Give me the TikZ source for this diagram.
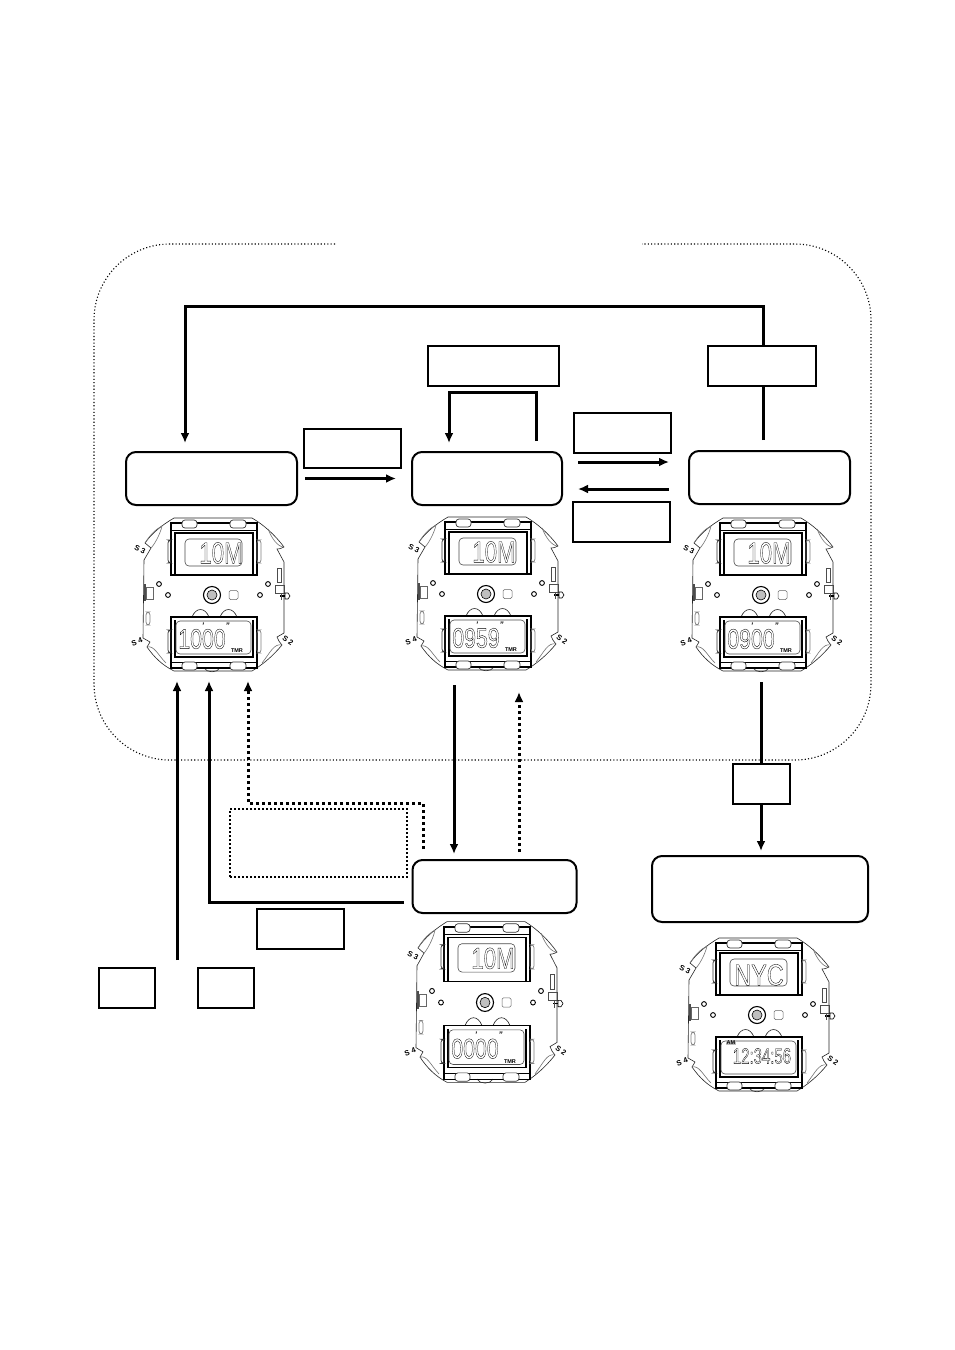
\documentclass[tikz,border=0pt]{standalone}
\usepackage{graphicx}
\usepackage{fontspec}
\setmainfont{Liberation Sans}
\usetikzlibrary{arrows.meta,calc}
\newcommand{\outlinetext}[1]{\special{pdf:code 1 Tr 0.35 w}#1\special{pdf:code 0 Tr}}
\newcommand{\lcdtxt}[3]{\scalebox{#2}[1]{\fontsize{#1}{#1}\selectfont\outlinetext{#3}}}
\tikzset{
  sqbox/.style={draw=black,fill=white,line width=2pt,inner sep=0pt,outer sep=0pt},
  rbox/.style={sqbox,rounded corners=10pt},
  dotbox/.style={draw=black,fill=white,line width=2pt,dash pattern=on 2pt off 2pt,inner sep=0pt,outer sep=0pt},
  tline/.style={line width=3pt,draw=black},
  arr/.style={tline,-{Latex[length=10pt,width=9pt]}},
  darr/.style={line width=3pt,draw=black,dash pattern=on 3pt off 3pt,-{Latex[length=10pt,width=9pt]}},
  wthin/.style={line width=.6pt,draw=black!85},
  wgray/.style={line width=.6pt,draw=black!55},
  wframe/.style={line width=1.2pt,draw=black},
  wpill/.style={line width=.7pt,draw=black!80,rounded corners=3pt},
  wlab/.style={inner sep=0pt,font=\bfseries\fontsize{7.5}{7.5}\selectfont},
  wsmall/.style={inner sep=0pt,font=\bfseries\fontsize{5.5}{5.5}\selectfont},
  wmark/.style={inner sep=0pt,font=\bfseries\itshape\fontsize{8}{8}\selectfont}
}
% #1 name prefix, #2 x, #3 y, #4 top text position, #5 vertical scale
\newcommand{\watchbody}[5]{%
 \begin{scope}[shift={(#2,#3)},yscale=#5]
  % outline
  \draw[wthin] (-38,-77) -- (40,-77) .. controls (52,-70) and (63,-60) .. (72,-48) .. controls (68,-46) and (66,-46) .. (65,-46) -- (72,-33) -- (72,38) -- (65,42) .. controls (66,45) and (68,48) .. (70,50)
     .. controls (60,62) and (50,70) .. (40,76) -- (-38,76) .. controls (-50,70) and (-58,62) .. (-65,52) -- (-62,47) -- (-69,43) -- (-68,-35) -- (-61,-47) -- (-67,-52) .. controls (-60,-62) and (-50,-70) .. (-38,-77) -- cycle;
  \draw[wgray] (-67,-52) .. controls (-62,-60) and (-56,-66) .. (-50,-69) .. controls (-52,-60) and (-58,-50) .. (-61,-47);
  \draw[wgray] (72,-48) .. controls (66,-48) and (60,-56) .. (56,-66);
  \draw[wgray] (-65,52) .. controls (-58,50) and (-54,60) .. (-46,68);
  \draw[wgray] (70,50) .. controls (62,48) and (58,58) .. (50,68);
  % upper frames
  \draw[wframe] (-41,-72) rectangle (45,-20);
  \draw[line width=.7pt] (-41,-65) -- (45,-65);
  \draw[wframe] (-37,-20) -- (-37,-62) -- (41,-62) -- (41,-20);
  \draw[line width=.6pt,draw=black!70,rounded corners=4pt] (-27,-56) rectangle (30,-29);
  \draw[wpill,fill=white] (-30,-75) rectangle (-15,-67);
  \draw[wpill,fill=white] (18,-75) rectangle (34,-67);
  \draw[wpill] (-44,-55) -- (-41,-55) -- (-41,-32) -- (-44,-32) -- cycle;
  \draw[wpill,draw=black!50] (45,-55) rectangle (49,-32);
  % lower frames
  \draw[wthin] (-20,22) .. controls (-16,12) and (-7,12) .. (-3,22);
  \draw[wthin] (8,22) .. controls (12,12) and (21,12) .. (25,22);
  \draw[wthin] (-8,73) .. controls (-5,78) and (5,78) .. (8,73);
  \draw[wframe] (-41,22) rectangle (45,73);
  \draw[wframe] (-37,25) -- (-37,62) -- (41,62) -- (41,25);
  \draw[line width=.6pt,draw=black!70,rounded corners=4pt] (-36,26) rectangle (39,59);
  \draw[line width=.7pt] (-41,67) -- (45,67);
  \draw[wpill,fill=white] (-30,67) rectangle (-15,75);
  \draw[wpill,fill=white] (18,67) rectangle (34,75);
  \draw[wpill] (-44,35) -- (-41,35) -- (-41,58) -- (-44,58) -- cycle;
  \draw[wpill,draw=black!50] (45,35) rectangle (49,58);
  % centre
  \draw[line width=.9pt] (-53,-11) circle (2.4);
  \draw[line width=.9pt] (-44,0) circle (2.4);
  \draw[line width=.9pt] (56,-11) circle (2.4);
  \draw[line width=.9pt] (48,0) circle (2.4);
  \draw[line width=1.1pt] (0,0) circle (8.5);
  \draw[line width=.6pt,fill=black!25] (0,0) circle (5);
  \draw[line width=.5pt,draw=black!60,rounded corners=1.5pt] (17,-4.5) rectangle (26,4.5);
  % side details
  \draw[line width=.6pt,draw=black!60] (-66,-8) rectangle (-59,4);
  \draw[line width=1.1pt,draw=black!70] (-67,-11) -- (-67,6);
  \draw[wpill,draw=black!50] (-66,17) rectangle (-62,30);
  \draw[line width=.6pt,draw=black!70] (65,-27) rectangle (69,-13);
  \draw[line width=.6pt,draw=black!70] (63,-10) rectangle (72,-2);
  \draw[line width=1.6pt] (68,1) -- (74,1);
  \draw[line width=.6pt,fill=white] (73,-2) -- (76,-2) -- (78,1) -- (76,4) -- (73,4) -- cycle;
  \draw[line width=.8pt,draw=black!70] (69,-2) -- (69,5);
  % button labels
  \node[wlab,rotate=-25] (#1s3) at (-72,-45) {S 3};
  \node[wlab,rotate=20] (#1s4) at (-75,47) {S 4};
  \node[wlab,rotate=-35] (#1s2) at (76,46) {S 2};
  \node[inner sep=0pt] (#1up) at (#4) {\lcdtxt{30}{.74}{10M}};
 \end{scope}}
\newcommand{\timerdisp}[5]{%
 \begin{scope}[shift={(#2,#3)},yscale=#5]
  \node[inner sep=0pt] (#1dn) at (-10,44) {\lcdtxt{28}{.76}{#4}};
  \node[wmark] (#1m) at (-9,31) {'};
  \node[wmark] (#1s) at (15.5,31) {''};
  \node[wsmall] (#1t) at (25,56) {TMR};
 \end{scope}}
\begin{document}
\begin{tikzpicture}[x=1pt,y=-1pt]
\useasboundingbox (0,0) rectangle (954,1350);
\fill[white] (0,0) rectangle (954,1350);
% mode frame
\coordinate (gapL) at (335,244);
\coordinate (gapR) at (642,244);
\draw[line width=1.1pt,dash pattern=on 1.1pt off 2.2pt,rounded corners=76pt] (gapL) -- (94,244) -- (94,760) -- (871,760) -- (871,244) -- (gapR);
% nodes
\node[rbox,minimum width=171pt,minimum height=53pt] (A) at (211.5,478.5) {};
\node[rbox,minimum width=150pt,minimum height=53pt] (B) at (487,478.5) {};
\node[rbox,minimum width=161pt,minimum height=53pt] (C) at (769.5,477.5) {};
\node[rbox,minimum width=164pt,minimum height=53pt] (D) at (494.5,886.5) {};
\node[rbox,minimum width=216pt,minimum height=66pt] (E) at (760,889) {};
\node[sqbox,minimum width=97pt,minimum height=39pt] (l1) at (352.5,448.5) {};
\node[sqbox,minimum width=131pt,minimum height=40pt] (l2) at (493,366) {};
\node[sqbox,minimum width=108pt,minimum height=40pt] (l3) at (762,366) {};
\node[sqbox,minimum width=97pt,minimum height=40pt] (l4) at (622,433) {};
\node[sqbox,minimum width=97pt,minimum height=40pt] (l5) at (621.5,522) {};
\node[sqbox,minimum width=57pt,minimum height=40pt] (l6) at (761.5,784) {};
\node[dotbox,minimum width=177pt,minimum height=68pt] (l7) at (318.5,843) {};
\node[sqbox,minimum width=87pt,minimum height=40pt] (l8) at (300.5,929) {};
\node[sqbox,minimum width=56pt,minimum height=40pt] (l9) at (127,988) {};
\node[sqbox,minimum width=56pt,minimum height=40pt] (l10) at (226,988) {};
% connectors
\coordinate (t1) at (763,306);
\coordinate (t2) at (185,306);
\draw[tline] (C.north -| t1) ++(0,-11) -- (l3.south -| t1);
\draw[arr,shorten >=9pt] (l3.north -| t1) -- (t1) -- (t2) -- (A.north -| t2);
\draw[arr,shorten <=8pt,shorten >=16pt] (A.east) -- (B.west);
\coordinate (b1) at (536.5,392);
\coordinate (b2) at (449,392);
\draw[arr,shorten <=11pt,shorten >=9pt] (B.north -| b1) -- (b1) -- (b2) -- (B.north -| b2);
\coordinate (h1) at (0,462);
\coordinate (h2) at (0,489);
\draw[arr,shorten <=16pt,shorten >=20pt] (B.east |- h1) -- (C.west |- h1);
\draw[arr,shorten <=20pt,shorten >=16pt] (C.west |- h2) -- (B.east |- h2);
\coordinate (v1) at (454,685);
\draw[arr,shorten >=6pt] (v1) -- (D.north -| v1);
\coordinate (v2) at (519,692);
\draw[darr,shorten <=8pt] (D.north -| v2) -- (v2);
\coordinate (v3) at (761,682);
\draw[tline] (v3) -- (l6.north -| v3);
\draw[arr,shorten >=5pt] (l6.south -| v3) -- (E.north -| v3);
\coordinate (u1) at (177,681);
\coordinate (u1b) at (177,960);
\draw[arr] (u1b) -- (u1);
\coordinate (u2) at (209,681);
\coordinate (u2b) at (209,902);
\draw[arr,shorten <=9pt] (D.west |- u2b) -- (u2b) -- (u2);
\coordinate (u3) at (248,681);
\coordinate (u3b) at (248,803);
\coordinate (u3c) at (423,803);
\draw[darr,shorten <=11pt] (D.north -| u3c) -- (u3c) -- (u3b) -- (u3);
% watches
\watchbody{wa}{212}{595}{9,-42}{1}
\timerdisp{wa}{212}{595}{1000}{1}
\watchbody{wb}{486}{594}{8,-42}{1}
\timerdisp{wb}{486}{594}{0959}{1}
\watchbody{wc}{761}{595}{8,-42}{1}
\timerdisp{wc}{761}{595}{0900}{1}
\watchbody{wd}{485}{1002.5}{8,-42}{1.05}
\timerdisp{wd}{485}{1002.5}{0000}{1.05}
\watchbody{we}{757}{1015}{99,-42}{1}
\begin{scope}[shift={(757,1015)}]
 \fill[white] (75,-60) rectangle (125,-25);
 \node[inner sep=0pt] (wenyc) at (2,-40) {\lcdtxt{30}{.78}{NYC}};
 \node[inner sep=0pt] (wedn) at (5,41) {\lcdtxt{22}{.68}{12:34:56}};
 \node[wsmall,fill=black!25,inner sep=.5pt] (weam) at (-26,28) {AM};
\end{scope}
\end{tikzpicture}
\end{document}
